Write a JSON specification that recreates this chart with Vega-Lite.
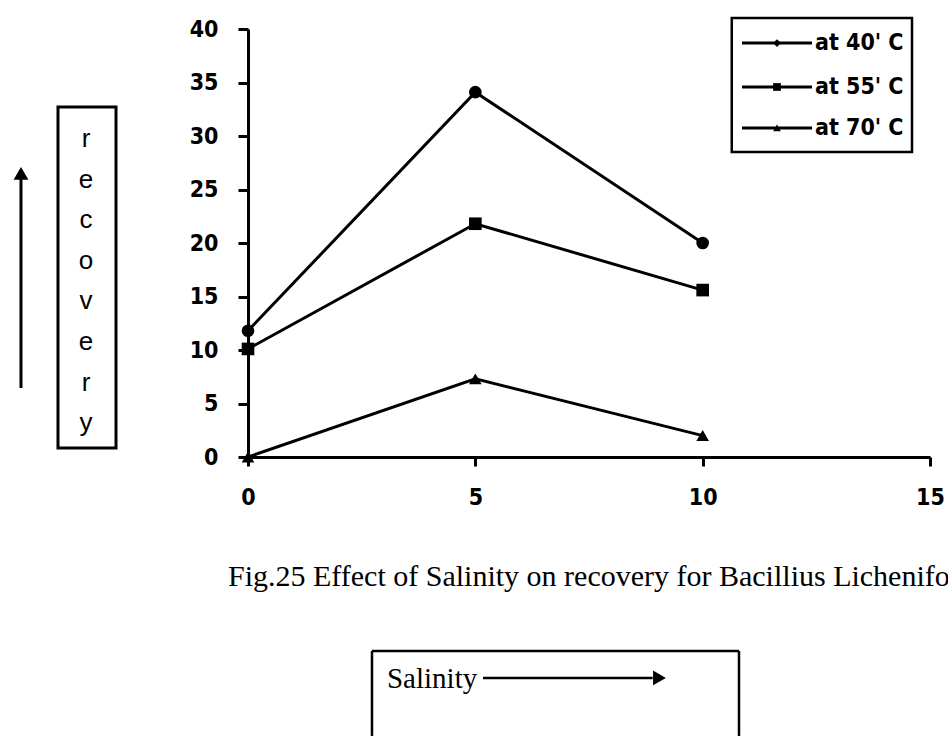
{
  "$schema": "https://vega.github.io/schema/vega-lite/v6.json",
  "width": 682,
  "height": 428,
  "autosize": {"type": "none"},
  "padding": {"left": 248, "top": 29, "right": 18, "bottom": 279},
  "background": "white",
  "config": {
    "view": {"stroke": null},
    "axis": {
      "grid": false,
      "title": null,
      "domainColor": "black",
      "domainWidth": 3,
      "tickColor": "black",
      "tickWidth": 3,
      "labelColor": "black",
      "labelFont": "DejaVu Sans Condensed, DejaVu Sans",
      "labelFontSize": 23,
      "labelFontWeight": "bold",
      "labelFlush": false,
      "labelOverlap": false
    }
  },
  "layer": [
    {
      "data": {
        "values": [
          {"series": "at 40' C", "salinity": 0, "recovery": 11.8},
          {"series": "at 40' C", "salinity": 5, "recovery": 34.1},
          {"series": "at 40' C", "salinity": 10, "recovery": 20.0},
          {"series": "at 55' C", "salinity": 0, "recovery": 10.1},
          {"series": "at 55' C", "salinity": 5, "recovery": 21.8},
          {"series": "at 55' C", "salinity": 10, "recovery": 15.6},
          {"series": "at 70' C", "salinity": 0, "recovery": 0},
          {"series": "at 70' C", "salinity": 5, "recovery": 7.3},
          {"series": "at 70' C", "salinity": 10, "recovery": 2.0}
        ]
      },
      "layer": [
        {
          "mark": {"type": "line", "color": "black", "strokeWidth": 3},
          "encoding": {
            "x": {"field": "salinity", "type": "quantitative", "scale": {"domain": [0, 15], "nice": false, "zero": false},
                  "axis": {"values": [0, 5, 10, 15], "tickSize": 9, "labelPadding": 20}},
            "y": {"field": "recovery", "type": "quantitative", "scale": {"domain": [0, 40], "nice": false},
                  "axis": {"values": [0, 5, 10, 15, 20, 25, 30, 35, 40], "tickSize": 10, "labelPadding": 20}},
            "detail": {"field": "series"}
          }
        },
        {
          "mark": {"type": "point", "filled": true, "color": "black", "opacity": 1, "size": 160},
          "encoding": {
            "x": {"field": "salinity", "type": "quantitative"},
            "y": {"field": "recovery", "type": "quantitative"},
            "shape": {"field": "series", "type": "nominal", "legend": null,
                      "scale": {"domain": ["at 40' C", "at 55' C", "at 70' C"], "range": ["circle", "square", "triangle-up"]}}
          }
        }
      ]
    },
    {
      "data": {"values": [{}]},
      "layer": [
        {"mark": {"type": "rule", "color": "black", "strokeWidth": 3},
         "encoding": {"x": {"datum": -4.993}, "y": {"datum": 6.45}, "y2": {"datum": 26.0}}},
        {"mark": {"type": "point", "shape": "triangle-up", "filled": true, "color": "black", "opacity": 1, "size": 220},
         "encoding": {"x": {"datum": -4.993}, "y": {"datum": 26.5}}},
        {"mark": {"type": "rect", "fill": null, "fillOpacity": 0, "stroke": "black", "strokeWidth": 3},
         "encoding": {"x": {"datum": -4.179}, "x2": {"datum": -2.903}, "y": {"datum": 32.71}, "y2": {"datum": 0.841}}},
        {"mark": {"type": "text", "text": ["r", "e", "c", "o", "v", "e", "r", "y"], "lineHeight": 40.6, "align": "center", "baseline": "middle",
                  "font": "Liberation Sans", "fontSize": 26, "color": "black"},
         "encoding": {"x": {"datum": -3.563}, "y": {"datum": 29.72}}},
        {"mark": {"type": "text", "text": "Fig.25 Effect of Salinity on recovery for Bacillius Licheniformis", "align": "left", "baseline": "alphabetic",
                  "font": "Liberation Serif", "fontSize": 30, "color": "black"},
         "encoding": {"x": {"datum": -0.44}, "y": {"datum": -12.06}}},
        {"mark": {"type": "rule", "color": "black", "strokeWidth": 2.5},
         "encoding": {"x": {"datum": 2.727}, "x2": {"datum": 10.799}, "y": {"datum": -18.13}}},
        {"mark": {"type": "rule", "color": "black", "strokeWidth": 2.5},
         "encoding": {"x": {"datum": 2.727}, "y": {"datum": -18.13}, "y2": {"datum": -26.07}}},
        {"mark": {"type": "rule", "color": "black", "strokeWidth": 2.5},
         "encoding": {"x": {"datum": 10.799}, "y": {"datum": -18.13}, "y2": {"datum": -26.07}}},
        {"mark": {"type": "text", "text": "Salinity", "align": "left", "baseline": "alphabetic",
                  "font": "Liberation Serif", "fontSize": 29, "color": "black"},
         "encoding": {"x": {"datum": 3.057}, "y": {"datum": -21.59}}},
        {"mark": {"type": "rule", "color": "black", "strokeWidth": 2.5},
         "encoding": {"x": {"datum": 5.169}, "x2": {"datum": 8.9}, "y": {"datum": -20.65}}},
        {"mark": {"type": "point", "shape": "triangle-right", "filled": true, "color": "black", "opacity": 1, "size": 220},
         "encoding": {"x": {"datum": 9.05}, "y": {"datum": -20.65}}},
        {"mark": {"type": "rect", "fill": "white", "stroke": "black", "strokeWidth": 2.5},
         "encoding": {"x": {"datum": 10.64}, "x2": {"datum": 14.604}, "y": {"datum": 41.03}, "y2": {"datum": 28.5}}},
        {"mark": {"type": "rule", "color": "black", "strokeWidth": 3},
         "encoding": {"x": {"datum": 10.865}, "x2": {"datum": 12.405}, "y": {"datum": 38.69}}},
        {"mark": {"type": "rule", "color": "black", "strokeWidth": 3},
         "encoding": {"x": {"datum": 10.865}, "x2": {"datum": 12.405}, "y": {"datum": 34.58}}},
        {"mark": {"type": "rule", "color": "black", "strokeWidth": 3},
         "encoding": {"x": {"datum": 10.865}, "x2": {"datum": 12.405}, "y": {"datum": 30.75}}},
        {"mark": {"type": "point", "shape": "diamond", "filled": true, "color": "black", "opacity": 1, "size": 60},
         "encoding": {"x": {"datum": 11.635}, "y": {"datum": 38.69}}},
        {"mark": {"type": "point", "shape": "square", "filled": true, "color": "black", "opacity": 1, "size": 60},
         "encoding": {"x": {"datum": 11.635}, "y": {"datum": 34.58}}},
        {"mark": {"type": "point", "shape": "triangle-up", "filled": true, "color": "black", "opacity": 1, "size": 60},
         "encoding": {"x": {"datum": 11.635}, "y": {"datum": 30.75}}},
        {"mark": {"type": "text", "text": "at 40' C", "align": "left", "baseline": "middle",
                  "font": "DejaVu Sans Condensed, DejaVu Sans", "fontWeight": "bold", "fontSize": 23, "color": "black"},
         "encoding": {"x": {"datum": 12.47}, "y": {"datum": 38.69}}},
        {"mark": {"type": "text", "text": "at 55' C", "align": "left", "baseline": "middle",
                  "font": "DejaVu Sans Condensed, DejaVu Sans", "fontWeight": "bold", "fontSize": 23, "color": "black"},
         "encoding": {"x": {"datum": 12.47}, "y": {"datum": 34.58}}},
        {"mark": {"type": "text", "text": "at 70' C", "align": "left", "baseline": "middle",
                  "font": "DejaVu Sans Condensed, DejaVu Sans", "fontWeight": "bold", "fontSize": 23, "color": "black"},
         "encoding": {"x": {"datum": 12.47}, "y": {"datum": 30.75}}}
      ]
    }
  ]
}
